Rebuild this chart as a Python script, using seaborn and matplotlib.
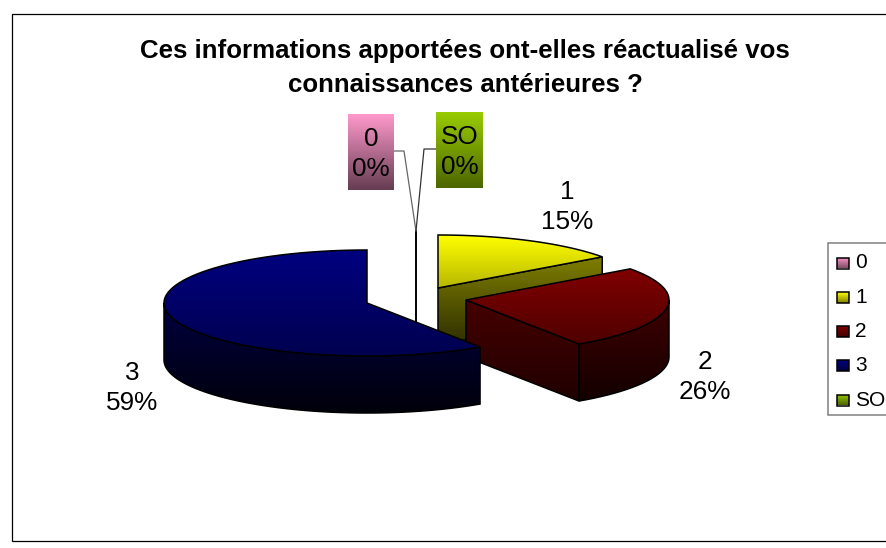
import numpy as np
import matplotlib
matplotlib.use("Agg")
import matplotlib.pyplot as plt
from matplotlib.patches import Polygon, Rectangle
from matplotlib.colors import to_rgb
import seaborn as sns

title = "Ces informations apportées ont-elles réactualisé vos\nconnaissances antérieures ?"
categories = ["0", "1", "2", "3", "SO"]
values = [0.0, 15.0, 25.6, 59.4, 0.0]
colors = ["#FF99CC", "#FFFF00", "#800000", "#000080", "#99CC00"]

sns.set_theme(style="white")
plt.rcParams["font.family"] = ["Liberation Sans", "DejaVu Sans"]
palette = dict(zip(categories, sns.color_palette(colors)))

W, H = 886, 548
fig = plt.figure(figsize=(W / 100, H / 100), dpi=100, facecolor="white")
ax = fig.add_axes([0, 0, 1, 1])
ax.set_axis_off()

RX, RY, DEPTH = 203, 53, 57
EDGE = 1.1
centers = {"1": (438, 288), "2": (466, 300), "3": (367, 303)}
share = 360 * np.array(values) / np.sum(values)
ends = np.cumsum(share)
starts = ends - share
span = {c: (s, e) for c, s, e in zip(categories, starts, ends)}


def rim(c, a, b, n=80):
    t = np.radians(np.linspace(a, b, n))
    return np.column_stack([c[0] + RX * np.sin(t), c[1] - RY * np.cos(t)])


def gradient(poly, color, f_top, f_bot, y0=None, y1=None, z=2):
    """Fill a polygon with a vertical gradient from f_top*color to f_bot*color."""
    poly = np.asarray(poly)
    ys, ye = (poly[:, 1].min() if y0 is None else y0), (poly[:, 1].max() if y1 is None else y1)
    f = np.linspace(f_top, f_bot, 128)[:, None, None]
    img = f * np.array(to_rgb(color))[None, None, :]
    im = ax.imshow(img, extent=(poly[:, 0].min(), poly[:, 0].max(), ye, ys),
                   aspect="auto", zorder=z, interpolation="bilinear")
    p = Polygon(poly, closed=True, transform=ax.transData, fc="none", ec="none")
    ax.add_patch(p)
    im.set_clip_path(p)
    ax.add_patch(Polygon(poly, closed=True, fc="none", ec="black", lw=EDGE, zorder=z + 0.1, joinstyle="miter"))


def drop(pts):
    return np.asarray(pts) + [0, DEPTH]


def side(pts):
    return np.vstack([pts, drop(pts)[::-1]])


# zero-value slices: they collapse to one vertical edge
zero_x, zero_top = 416, 231
ax.plot([zero_x, zero_x], [zero_top, 345], color="black", lw=1.4, zorder=1)

# slice 1
z = 3
c = centers["1"]
a, b = span["1"]
r = rim(c, a, b)
gradient(side(np.vstack([[c], r[-1:]])), palette["1"], 0.5, 0.18, z=z)
gradient(np.vstack([[c], r]), palette["1"], 1.0, 0.72, z=z + 1)

# slice 2
z = 6
c = centers["2"]
a, b = span["2"]
r = rim(c, a, b)
gradient(side(np.vstack([[c], r[-1:]])), palette["2"], 0.55, 0.25, z=z)
gradient(side(rim(c, 90, b)), palette["2"], 0.5, 0.15, z=z + 1)
gradient(np.vstack([[c], r]), palette["2"], 1.0, 0.62, z=z + 2)

# slice 3
z = 10
c = centers["3"]
a, b = span["3"]
r = rim(c, a, b)
gradient(side(rim(c, a, 270)), palette["3"], 0.5, 0.08, z=z)
gradient(np.vstack([[c], r]), palette["3"], 1.0, 0.62, z=z + 1)

# labels
pct = [f"{round(100 * v / sum(values))}%" for v in values]
label_pos = {"1": (567, 207), "2": (705, 377), "3": (132, 388)}
for cat, p in zip(categories, pct):
    if cat in label_pos:
        x, y = label_pos[cat]
        ax.text(x, y, f"{cat}\n{p}", ha="center", va="center", fontsize=18.8,
                linespacing=1.33, color="black", zorder=20)

# boxed labels of the zero slices
boxes = {"0": (348, 394, 114, 190), "SO": (436, 483, 112, 188)}
fade = {"0": 0.4, "SO": 0.5}
for cat, p in zip(categories, pct):
    if cat in boxes:
        x0, x1, y0, y1 = boxes[cat]
        gradient([(x0, y0), (x1, y0), (x1, y1), (x0, y1)], palette[cat], 1.0, fade[cat], z=14)
        ax.patches[-1].set_visible(False)
        ax.text((x0 + x1) / 2, (y0 + y1) / 2 + 2, f"{cat}\n{p}", ha="center", va="center",
                fontsize=18.8, linespacing=1.3, color="black", zorder=20)

ax.plot([394, 404, zero_x], [151, 151, zero_top], color="#666666", lw=0.9, zorder=13)
ax.plot([436, 424, zero_x], [149, 149, zero_top], color="#333333", lw=0.9, zorder=13)

# title
ax.text(465, 68, title, ha="center", va="center", fontsize=18.6, fontweight="bold",
        linespacing=1.5, color="black", zorder=20)

# legend
ax.add_patch(Rectangle((828, 243), 80, 172, fc="white", ec="#808080", lw=1.1, zorder=15))
for cat, y in zip(categories, np.linspace(263, 400, len(categories))):
    gradient([(837, y - 5.5), (849, y - 5.5), (849, y + 5.5), (837, y + 5.5)], palette[cat], 1.0, 0.5, z=16)
    ax.text(855, y, cat, ha="left", va="center", fontsize=15, color="black", zorder=20)

# chart frame
ax.add_patch(Rectangle((12, 14), 890, 527, fc="none", ec="black", lw=0.9, zorder=0.5))

ax.set_xlim(0, W)
ax.set_ylim(H, 0)
fig.savefig("out.png", dpi=100, facecolor="white")
